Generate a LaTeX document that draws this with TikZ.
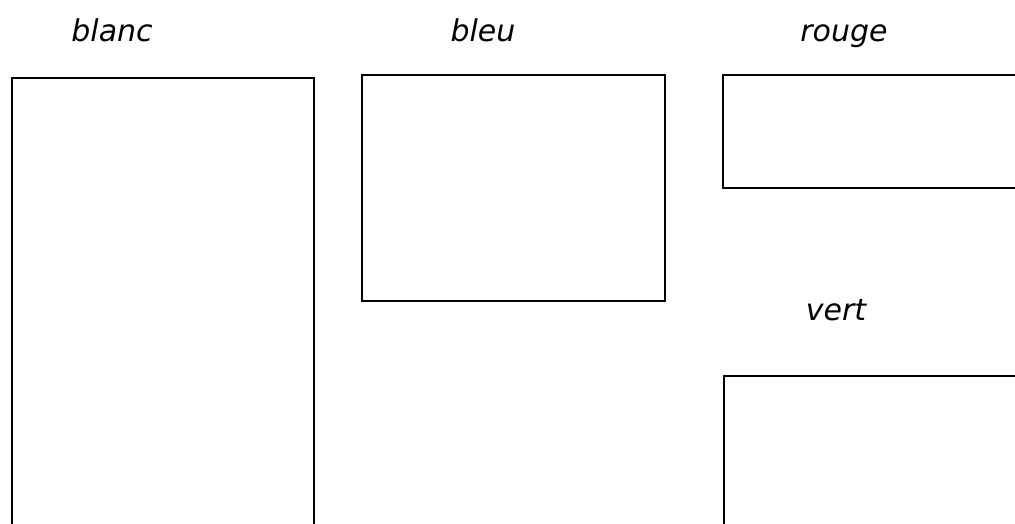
\documentclass[tikz,border=0pt]{standalone}
\usepackage{fontspec}
\setmainfont{DejaVu Sans}
\begin{document}
\begin{tikzpicture}[x=1pt,y=-1pt,
  box/.style={draw=black,line width=1.6pt,rectangle,inner sep=0pt,anchor=north west},
  lab/.style={font=\fontsize{30}{35}\selectfont\itshape,anchor=base,inner sep=0pt}]
\useasboundingbox (0,0) rectangle (1015,524);
\clip (0,0) rectangle (1015,524);
\node[box,minimum width=302pt,minimum height=560pt] (blanc) at (11,77) {};
\node[box,minimum width=303pt,minimum height=226pt] (bleu) at (361,74) {};
\node[box,minimum width=400pt,minimum height=113pt] (rouge) at (722,74) {};
\node[box,minimum width=400pt,minimum height=300pt] (vert) at (723,375) {};
\node[lab] (tblanc) at (112,42) {blanc};
\node[lab] (tbleu) at (483,42) {bleu};
\node[lab] (trouge) at (844,42) {rouge};
\node[lab] (tvert) at (836,320) {vert};
\end{tikzpicture}
\end{document}
